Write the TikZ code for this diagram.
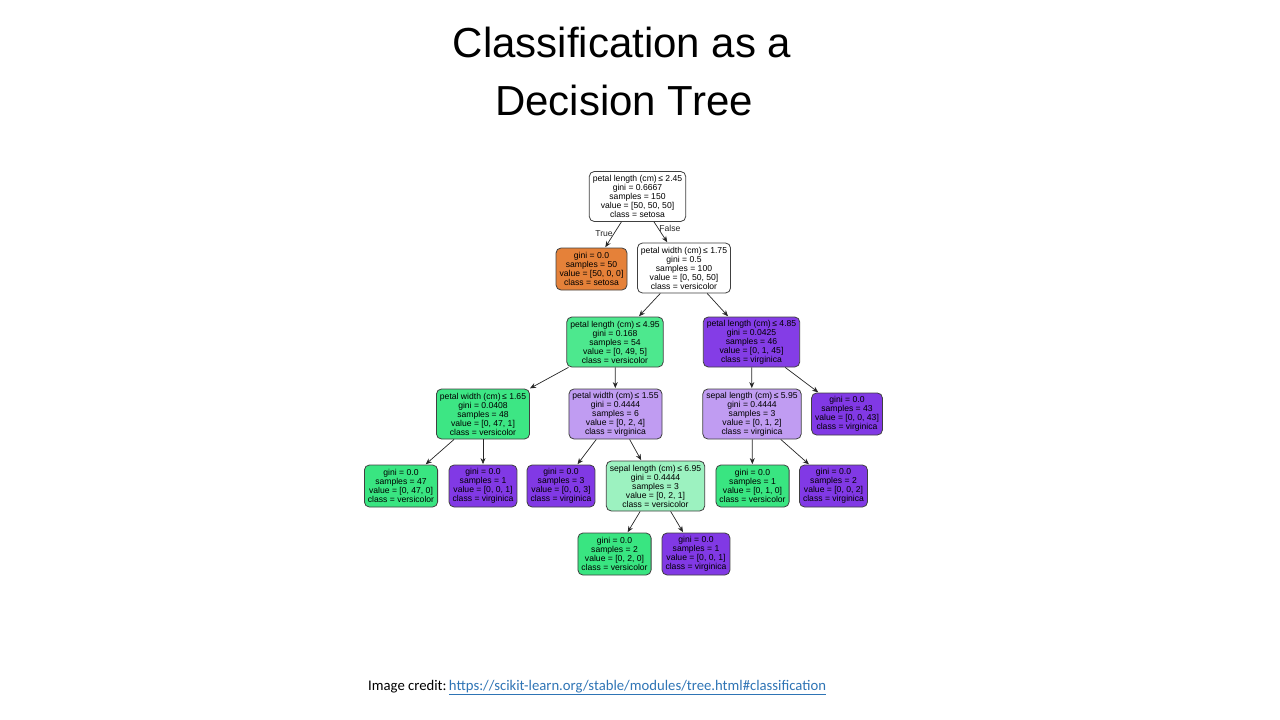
\documentclass[tikz,border=0pt]{standalone}
\usepackage{fontspec}
\setmainfont{Liberation Sans}
\newfontfamily\credfont{Carlito}
\usepackage{tikz}
\usetikzlibrary{arrows.meta}
\definecolor{seto}{HTML}{E58139}
\definecolor{versi}{HTML}{39E581}
\definecolor{virg}{HTML}{8139E5}
\definecolor{lnk}{HTML}{2E74B5}
\tikzset{
  tnode/.style={draw=black!75, line width=0.8pt, rounded corners=5pt, align=center,
    font=\fontsize{8.6}{9}\selectfont, inner xsep=3.5pt, inner ysep=2.5pt},
  split/.style={tnode, minimum height=50pt},
  leaf/.style={tnode, minimum height=42pt},
  edge/.style={-{Stealth[length=6pt,width=5pt]}, line width=0.7pt, black!85, shorten >=0.5pt},
  elab/.style={font=\fontsize{8.6}{9}\selectfont, inner sep=1pt}
}

\begin{document}
\begin{tikzpicture}[x=1pt,y=-1pt]
	\useasboundingbox (0,0) rectangle (1280,720);
	% title
	\node[anchor=base, font=\fontsize{42}{50}\selectfont] (title1) at (622,57) {Classification as a};
	\node[anchor=base, font=\fontsize{42}{50}\selectfont] (title2) at (624,115) {Decision Tree};
	% tree nodes
	\node[split, fill=white] (root) at (637.5,196.5) {petal length (cm)$\,$≤ 2.45\\gini = 0.6667\\samples = 150\\value = [50, 50, 50]\\class = setosa};
	\node[leaf, fill=seto, minimum width=71pt] (setosa) at (591.5,269) {gini = 0.0\\samples = 50\\value = [50, 0, 0]\\class = setosa};
	\node[split, fill=white] (pw175) at (684,268) {petal width (cm)$\,$≤ 1.75\\gini = 0.5\\samples = 100\\value = [0, 50, 50]\\class = versicolor};
	\node[split, fill=versi!90!white] (pl495) at (615,342) {petal length (cm)$\,$≤ 4.95\\gini = 0.168\\samples = 54\\value = [0, 49, 5]\\class = versicolor};
	\node[split, fill=virg!98!white] (pl485) at (751.5,342) {petal length (cm)$\,$≤ 4.85\\gini = 0.0425\\samples = 46\\value = [0, 1, 45]\\class = virginica};
	\node[split, fill=versi!98!white] (pw165) at (483,414) {petal width (cm)$\,$≤ 1.65\\gini = 0.0408\\samples = 48\\value = [0, 47, 1]\\class = versicolor};
	\node[split, fill=virg!50!white] (pw155) at (615.5,414) {petal width (cm)$\,$≤ 1.55\\gini = 0.4444\\samples = 6\\value = [0, 2, 4]\\class = virginica};
	\node[split, fill=virg!50!white] (sl595) at (752,414) {sepal length (cm)$\,$≤ 5.95\\gini = 0.4444\\samples = 3\\value = [0, 1, 2]\\class = virginica};
	\node[leaf, fill=virg] (v43) at (847,414) {gini = 0.0\\samples = 43\\value = [0, 0, 43]\\class = virginica};
	\node[leaf, fill=versi] (v47) at (401,486) {gini = 0.0\\samples = 47\\value = [0, 47, 0]\\class = versicolor};
	\node[leaf, fill=virg] (v001a) at (483,486) {gini = 0.0\\samples = 1\\value = [0, 0, 1]\\class = virginica};
	\node[leaf, fill=virg] (v003) at (561,486) {gini = 0.0\\samples = 3\\value = [0, 0, 3]\\class = virginica};
	\node[split, fill=versi!50!white] (sl695) at (655.5,486) {sepal length (cm)$\,$≤ 6.95\\gini = 0.4444\\samples = 3\\value = [0, 2, 1]\\class = versicolor};
	\node[leaf, fill=versi] (v010) at (752.5,486) {gini = 0.0\\samples = 1\\value = [0, 1, 0]\\class = versicolor};
	\node[leaf, fill=virg] (v002) at (833.5,486) {gini = 0.0\\samples = 2\\value = [0, 0, 2]\\class = virginica};
	\node[leaf, fill=versi] (v020) at (614.5,554) {gini = 0.0\\samples = 2\\value = [0, 2, 0]\\class = versicolor};
	\node[leaf, fill=virg] (v001b) at (696,554) {gini = 0.0\\samples = 1\\value = [0, 0, 1]\\class = virginica};
	% edges
	\draw[edge] (root) -- node[elab, left, pos=0.45] {True} (setosa);
	\draw[edge] (root) -- node[elab, right, pos=0.3] {False} (pw175);
	\draw[edge] (pw175) -- (pl495);
	\draw[edge] (pw175) -- (pl485);
	\draw[edge] (pl495) -- (pw165);
	\draw[edge] (pl495) -- (pw155);
	\draw[edge] (pl485) -- (sl595);
	\draw[edge] (pl485) -- (v43);
	\draw[edge] (pw165) -- (v47);
	\draw[edge] (pw165) -- (v001a);
	\draw[edge] (pw155) -- (v003);
	\draw[edge] (pw155) -- (sl695);
	\draw[edge] (sl595) -- (v010);
	\draw[edge] (sl595) -- (v002);
	\draw[edge] (sl695) -- (v020);
	\draw[edge] (sl695) -- (v001b);
	% credit
	\node[anchor=base west, inner sep=0pt, font=\credfont\fontsize{14.7}{17}\selectfont] (credit) at (368,690) {Image credit:\,\textcolor{lnk}{\underline{https://scikit-learn.org/stable/modules/tree.html\#classification}}};
\end{tikzpicture}
\end{document}
